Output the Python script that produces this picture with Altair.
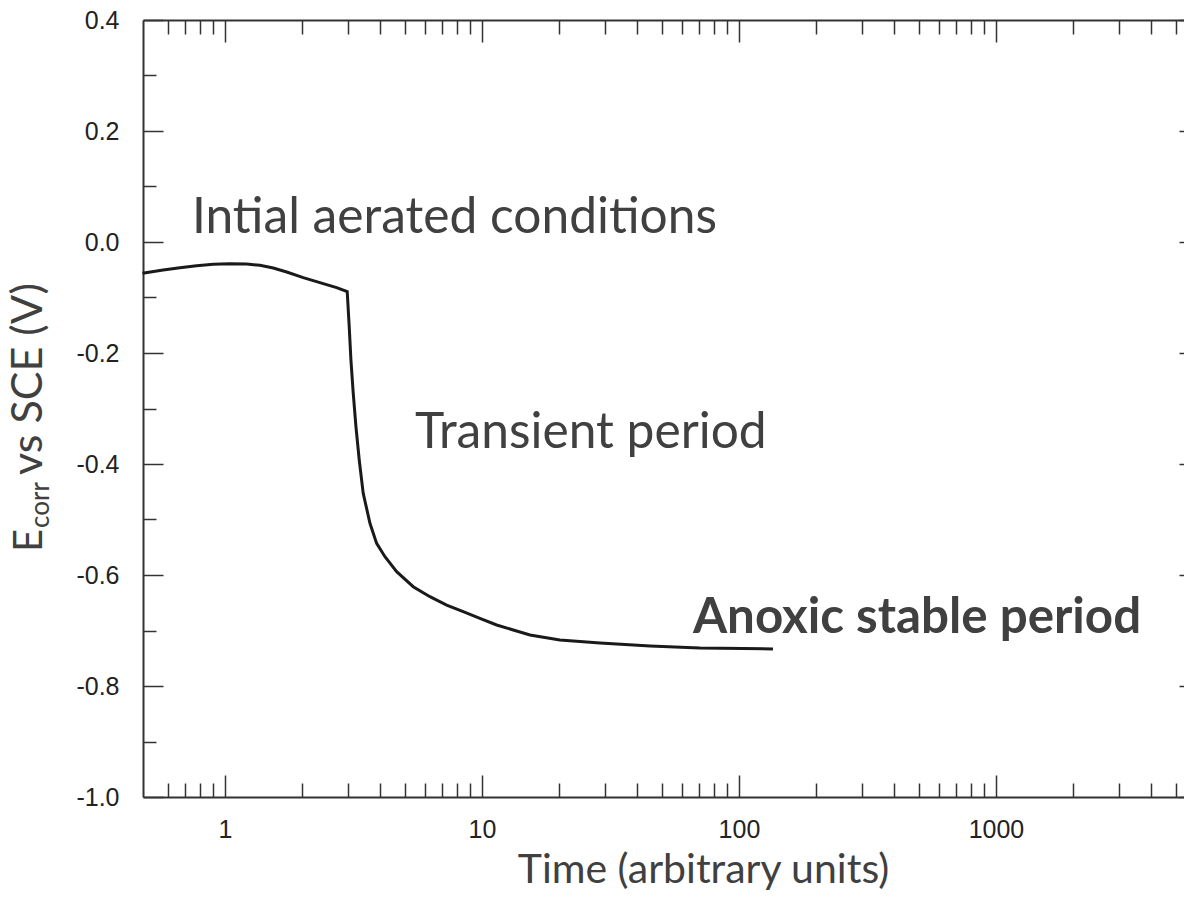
import altair as alt
import pandas as pd

# ---- values ----
time_units = [0.478, 0.575, 0.668, 0.776, 0.901, 1.046, 1.215, 1.368, 1.542, 1.739, 2.017,
              2.342, 2.720, 2.991, 3.045, 3.092, 3.157, 3.234, 3.331, 3.452, 3.667, 3.893,
              4.195, 4.658, 5.403, 6.277, 7.290, 8.457, 9.82, 11.41, 13.24, 15.38, 20.1,
              28.8, 45.1, 70.5, 135.6]
ecorr_v = [-0.0564, -0.0505, -0.0463, -0.0427, -0.0402, -0.0391, -0.0396, -0.0420, -0.0468,
           -0.0540, -0.0643, -0.0733, -0.0823, -0.0895, -0.1526, -0.2126, -0.2726, -0.3327,
           -0.3928, -0.4528, -0.5069, -0.5430, -0.5670, -0.5941, -0.6211, -0.6391, -0.6541,
           -0.6661, -0.6781, -0.6901, -0.6991, -0.7081, -0.7171, -0.7225, -0.7279, -0.7315,
           -0.7333]

x_major = [1, 10, 100, 1000]
x_minor = [0.6, 0.7, 0.8, 0.9, 2, 3, 4, 5, 6, 7, 8, 9, 20, 30, 40, 50, 60, 70, 80, 90,
           200, 300, 400, 500, 600, 700, 800, 900, 2000, 3000, 4000, 5000]
y_major = [-1.0, -0.8, -0.6, -0.4, -0.2, 0.0, 0.2, 0.4]
y_minor = [-0.9, -0.7, -0.5, -0.3, -0.1, 0.1, 0.3]

ann_text = ["Intial aerated conditions", "Transient period", "Anoxic stable period"]
ann_time = [0.744, 5.49, 66.2]
ann_e = [0.016, -0.371, -0.7045]

X_DOMAIN = [0.48, 5390]
Y_DOMAIN = [-1.0, 0.4]

curve = pd.DataFrame({"t": time_units, "e": ecorr_v})
ann = pd.DataFrame({"t": ann_time, "e": ann_e, "label": ann_text})

AX = "#333333"
TXT = "#404040"
TICKFONT = "Liberation Sans, Arial, sans-serif"
ANNFONT = "Lato, Carlito, Calibri, sans-serif"

xscale = alt.Scale(type="log", domain=X_DOMAIN, nice=False)
yscale = alt.Scale(domain=Y_DOMAIN, nice=False, zero=False)

Y_LABEL_EXPR = ("datum.value < 0 ? '-' + format(-datum.value, '.1f') "
                ": format(datum.value, '.1f')")


def tick_axis(orient, values, size, labels=False, offset=None, **kw):
    return alt.Axis(orient=orient, values=values,
                    offset=(-size if offset is None else offset), tickSize=size,
                    domain=False, grid=False, labels=labels, ticks=True,
                    tickColor=AX, tickWidth=1.5, title=None, **kw)


def domain_axis(orient, **kw):
    return alt.Axis(orient=orient, domain=True, domainColor=AX, domainWidth=2,
                    ticks=False, labels=False, grid=False, **kw)


def X(axis):
    return alt.X("t:Q", scale=xscale, axis=axis)


def Y(axis):
    return alt.Y("e:Q", scale=yscale, axis=axis)


line = alt.Chart(curve).mark_line(color="#1a1a1a", strokeWidth=3).encode(
    x=X(tick_axis("bottom", x_major, 22, labels=True, format="d",
                  labelFont=TICKFONT, labelFontSize=25, labelColor="#222222",
                  labelPadding=20)),
    y=Y(tick_axis("left", y_major, 20, labels=True, labelExpr=Y_LABEL_EXPR,
                  labelFont=TICKFONT, labelFontSize=25, labelColor="#222222",
                  labelPadding=24)),
    order=alt.Order("t:Q"),
)

ann_base = alt.Chart(ann).mark_text(font=ANNFONT, fontSize=49.7, color=TXT,
                                    align="left", baseline="alphabetic")

t1 = ann_base.transform_filter(alt.datum.label == ann_text[0]).encode(
    x=X(tick_axis("bottom", x_minor, 14)),
    y=Y(tick_axis("left", y_minor, 13)),
    text="label:N",
)
t2 = ann_base.transform_filter(alt.datum.label == ann_text[1]).encode(
    x=X(domain_axis("bottom", title="Time (arbitrary units)", titleFont=ANNFONT,
                    titleFontSize=41, titleFontWeight="normal", titleColor=TXT,
                    titleX=560, titleY=85, titleAlign="center",
                    titleBaseline="alphabetic")),
    y=Y(domain_axis("left", title=None)),
    text="label:N",
)
t3 = alt.Chart(ann).mark_text(font=ANNFONT, fontSize=49.3, fontWeight="bold", color=TXT,
                              align="left", baseline="alphabetic").transform_filter(
    alt.datum.label == ann_text[2]).encode(
    x=X(tick_axis("top", x_major, 22)),
    y=Y(None),
    text="label:N",
)
# helper layers that only carry the remaining axes
h1 = alt.Chart(curve).mark_point(opacity=0).encode(
    x=X(tick_axis("top", x_minor, 14)),
    y=Y(tick_axis("right", y_major, 20, offset=-5)),
)
h2 = alt.Chart(curve).mark_point(opacity=0).encode(
    x=X(domain_axis("top", title=None)), y=Y(None))

one = pd.DataFrame({"k": [0]})
yt_e = alt.Chart(one).mark_text(font=ANNFONT, fontSize=40, color=TXT, angle=270,
                                align="left", baseline="alphabetic").encode(
    x=alt.value(-101), y=alt.value(532), text=alt.value("E"))
yt_sub = alt.Chart(one).mark_text(font=ANNFONT, fontSize=26, color=TXT, angle=270,
                                  align="left", baseline="alphabetic").encode(
    x=alt.value(-94), y=alt.value(508), text=alt.value("corr"))
yt_rest = alt.Chart(one).mark_text(font=ANNFONT, fontSize=43, color=TXT, angle=270,
                                   align="left", baseline="alphabetic").encode(
    x=alt.value(-101), y=alt.value(455), text=alt.value("vs SCE (V)"))

chart = alt.layer(line, t1, t2, t3, h1, h2, yt_e, yt_sub, yt_rest).resolve_axis(
    x="independent", y="independent"
).properties(
    width=1041, height=777,
    padding={"left": 143, "top": 20, "right": 0, "bottom": 104},
    autosize=alt.AutoSizeParams(type="none"),
    background="white",
).configure_view(stroke=None)

chart.save("out.html", embed_options={"renderer": "svg", "actions": False})
